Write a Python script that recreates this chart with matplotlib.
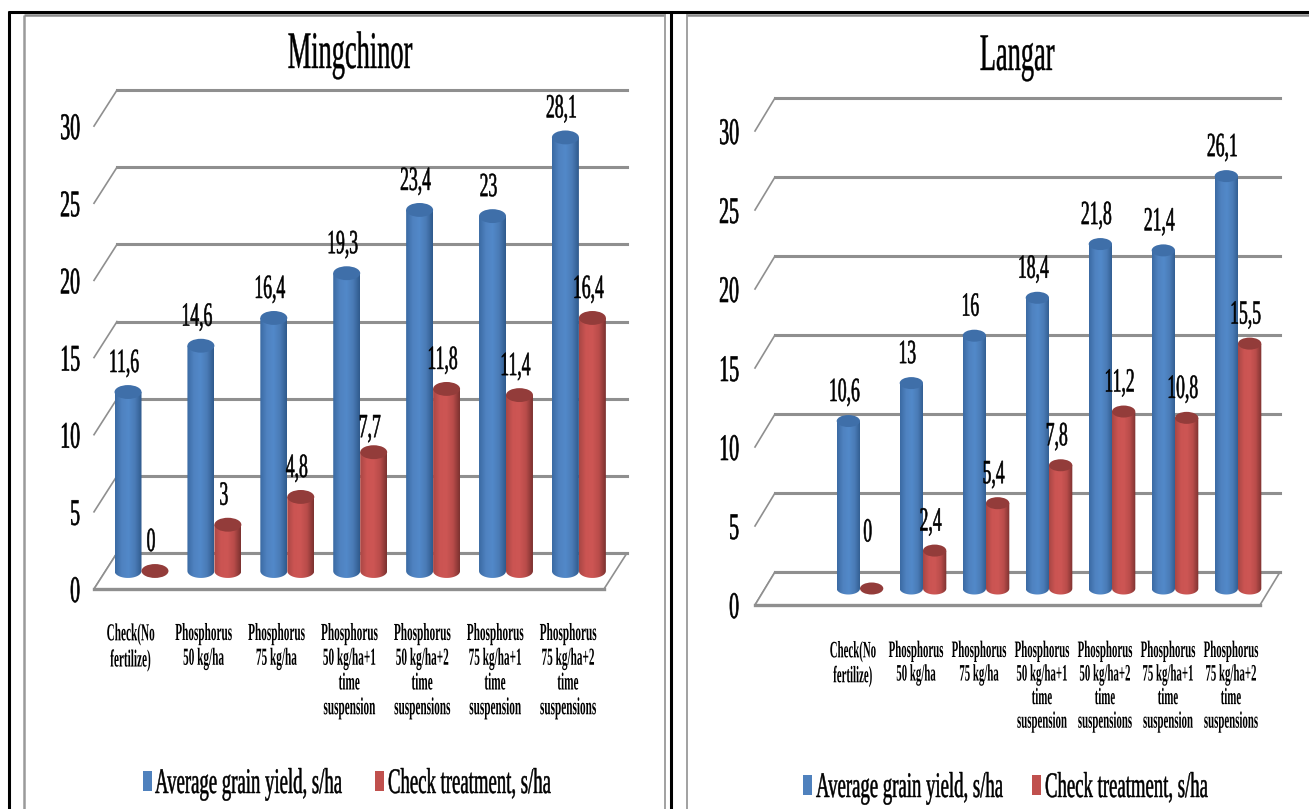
import numpy as np
import matplotlib
matplotlib.use("Agg")
import matplotlib.pyplot as plt
from matplotlib.colors import LinearSegmentedColormap
from matplotlib.lines import Line2D
from matplotlib.patches import Ellipse, PathPatch, Polygon, Rectangle
from matplotlib.path import Path
from matplotlib.patheffects import AbstractPathEffect
from matplotlib.transforms import Affine2D, IdentityTransform

W, H = 1309, 809

categories = [
    "Check(No\nfertilize)",
    "Phosphorus\n50 kg/ha",
    "Phosphorus\n75 kg/ha",
    "Phosphorus\n50 kg/ha+1\ntime\nsuspension",
    "Phosphorus\n50 kg/ha+2\ntime\nsuspensions",
    "Phosphorus\n75 kg/ha+1\ntime\nsuspension",
    "Phosphorus\n75 kg/ha+2\ntime\nsuspensions",
]
series_names = ["Average grain yield, s/ha", "Check treatment, s/ha"]
y_ticks = [0, 5, 10, 15, 20, 25, 30]

mingchinor_avg = [11.6, 14.6, 16.4, 19.3, 23.4, 23, 28.1]
mingchinor_check = [0, 3, 4.8, 7.7, 11.8, 11.4, 16.4]
langar_avg = [10.6, 13, 16, 18.4, 21.8, 21.4, 26.1]
langar_check = [0, 2.4, 5.4, 7.8, 11.2, 10.8, 15.5]

plt.rcParams["font.family"] = ["Liberation Serif", "DejaVu Serif"]

blue_map = LinearSegmentedColormap.from_list("b", ["#3b6aa3", "#4f82c0", "#5289c9", "#4a7bb6", "#2f5a8d"])
red_map = LinearSegmentedColormap.from_list("r", ["#a94745", "#cb5452", "#cd5654", "#b94c4a", "#7c3230"])


class Tall(AbstractPathEffect):
    """Stretches a text line upward from its baseline, the source font is a squashed one."""

    def __init__(self, sy, stroke=0.0):
        super().__init__()
        self.sy = sy
        self.stroke = stroke

    def draw_path(self, renderer, gc, tpath, affine, rgbFace=None):
        base = affine.transform((0, 0))[1]
        tall = affine + Affine2D().translate(0, -base).scale(1, self.sy).translate(0, base)
        gc0 = renderer.new_gc()
        gc0.copy_properties(gc)
        gc0.set_linewidth(self.stroke)
        renderer.draw_path(gc0, tpath, tall, rgbFace)
        gc0.restore()


fig = plt.figure(figsize=(W / 100, H / 100), dpi=100, facecolor="white")


def fx(x):
    return x / W


def fy(y):
    return 1 - y / H


def frame_line(x0, y0, x1, y1, color, lw):
    fig.add_artist(Line2D([fx(x0), fx(x1)], [fy(y0), fy(y1)], color=color, lw=lw, solid_capstyle="butt"))


def draw_cylinder(ax, x, value, half_w, half_h, cmap, cap, z):
    if value > 0:
        t = np.linspace(np.pi, 2 * np.pi, 40)
        verts = list(zip(x + half_w * np.cos(t), half_h * np.sin(t)))
        verts += [(x + half_w, value), (x - half_w, value), (x - half_w, 0)]
        shape = PathPatch(Path(verts), transform=ax.transData, fc="none", ec="none")
        ax.add_patch(shape)
        im = ax.imshow(np.linspace(0, 1, 64)[None, :], cmap=cmap, aspect="auto", zorder=z,
                       extent=(x - half_w, x + half_w, -half_h, value))
        im.set_clip_path(shape)
    ax.add_patch(Ellipse((x, value), 2 * half_w, 2 * half_h, fc=cap, ec="none", zorder=z + 0.1))


def draw_panel(title, title_xy, avg, check, x_range, y_zero, unit, depth, first_cat, pitch,
               cat_shift, cat_top, cat_size, cat_spacing, tick_right, cap_h, shifts, legend_y, legend_x):
    # axes sit on the plane through the bars, the walls are shifted off it by depth
    left, right = x_range
    bottom_extra, top_extra = 4, 2
    ax = fig.add_axes([fx(left), fy(y_zero + bottom_extra * unit),
                       (right - left) / W, (30 + bottom_extra + top_extra) * unit / H])
    ax.set_axis_off()
    xmin = (left - first_cat) / pitch
    xmax = (right - first_cat) / pitch
    ax.set_xlim(xmin, xmax)
    ax.set_ylim(-bottom_extra, 30 + top_extra)
    ax.set_autoscale_on(False)
    dx, dy = depth
    back = ax.transData + Affine2D().translate(dx, dy)
    front = ax.transData + Affine2D().translate(-dx, -dy)
    screen = IdentityTransform()

    # floor and grid
    for tick in y_ticks:
        ax.plot([xmin, xmax], [tick, tick], transform=back, color="#8f8f8f", lw=2.2, clip_on=False, zorder=1)
        a = front.transform((xmin, tick))
        b = back.transform((xmin, tick))
        ax.add_line(Line2D([a[0], b[0]], [a[1], b[1]], transform=screen, color="#8f8f8f", lw=1.2,
                           clip_on=False, zorder=1))
        ax.annotate(str(tick), (xmin, tick), xytext=(tick_right - left, -dy - 13), textcoords="offset pixels",
                    ha="right", va="baseline", fontsize=14.3, color="black", annotation_clip=False,
                    path_effects=[Tall(1.89, 0.45)])
    corners = [front.transform((xmin, 0)), back.transform((xmin, 0)),
               back.transform((xmax, 0)), front.transform((xmax, 0))]
    ax.add_patch(Polygon(corners, closed=True, transform=screen, fc="white", ec="#8f8f8f", lw=1.2,
                         clip_on=False, zorder=1.5))
    ax.plot([xmin, xmax], [0, 0], transform=back, color="#8f8f8f", lw=2.2, clip_on=False, zorder=1.6)
    ax.plot([xmin, xmax], [0, 0], transform=front, color="#8f8f8f", lw=2.4, clip_on=False, zorder=1.6)

    # cylinders
    half_w = 0.185
    for i in range(len(categories)):
        draw_cylinder(ax, i - half_w, avg[i], half_w, cap_h, blue_map, "#3f6fa9", 3 + i * 0.01)
        draw_cylinder(ax, i + half_w, check[i], half_w, cap_h, red_map, "#933c3a", 4 + i * 0.01)

    # value labels
    for s, vals, sx in ((0, avg, -half_w), (1, check, half_w)):
        for i, v in enumerate(vals):
            ax.annotate(f"{v:g}".replace(".", ","), (i + sx, v), xytext=(-4, 20 + shifts.get((s, i), 0)),
                        textcoords="offset pixels", ha="center", va="baseline", fontsize=12.7,
                        annotation_clip=False, zorder=6, path_effects=[Tall(1.92, 0.4)])

    # category labels
    for i, name in enumerate(categories):
        ax.annotate(name, (i, 0), xytext=(cat_shift, -(cat_top - y_zero)), textcoords="offset pixels",
                    ha="center", va="top", fontsize=cat_size, fontweight="bold", linespacing=cat_spacing,
                    annotation_clip=False, path_effects=[Tall(2.18)])

    fig.text(fx(title_xy[0]), fy(title_xy[1]), title, ha="center", va="baseline", fontsize=19,
             path_effects=[Tall(2.0, 0.3)])

    # legend
    for name, color, (box_x, text_x) in zip(series_names, ["#4f81bd", "#c0504d"], legend_x):
        fig.add_artist(Rectangle((fx(box_x), fy(legend_y)), 9 / W, 20 / H, fc=color, ec="none",
                                 transform=fig.transFigure))
        fig.text(fx(text_x), fy(legend_y + 2), name, ha="left", va="baseline", fontsize=13.5,
                 path_effects=[Tall(1.92, 0.35)])


# outer frames of the two pasted charts
frame_line(9, 11, 9, 809, "black", 2.2)
frame_line(8, 12, 1309, 12, "black", 2.2)
frame_line(671, 11, 671, 809, "black", 2.2)
frame_line(24.5, 15, 24.5, 809, "#9a9a9a", 1.8)
frame_line(24, 14.5, 665, 14.5, "#8a8a8a", 1.8)
frame_line(665, 14, 665, 809, "#9a9a9a", 1.3)
frame_line(687, 14, 687, 809, "#9a9a9a", 1.3)
frame_line(687, 14.5, 1309, 14.5, "#8a8a8a", 1.8)

draw_panel("Mingchinor", (350, 68), mingchinor_avg, mingchinor_check, (105.5, 615.5), 571, 15.43,
           (11.5, 18), 141.5, 72.9, -11, 633, 8.1, 3.25, 80, 0.45, {(1, 3): -5}, 791, [(143, 155), (375, 388)])
draw_panel("Langar", (1017, 70), langar_avg, langar_check, (765, 1270), 588.5, 15.8,
           (10, 16.5), 860, 63, -7, 650, 7.8, 3.08, 739, 0.38, {(1, 0): 27}, 795, [(803, 816), (1032, 1045)])

fig.savefig("out.png", dpi=100)
